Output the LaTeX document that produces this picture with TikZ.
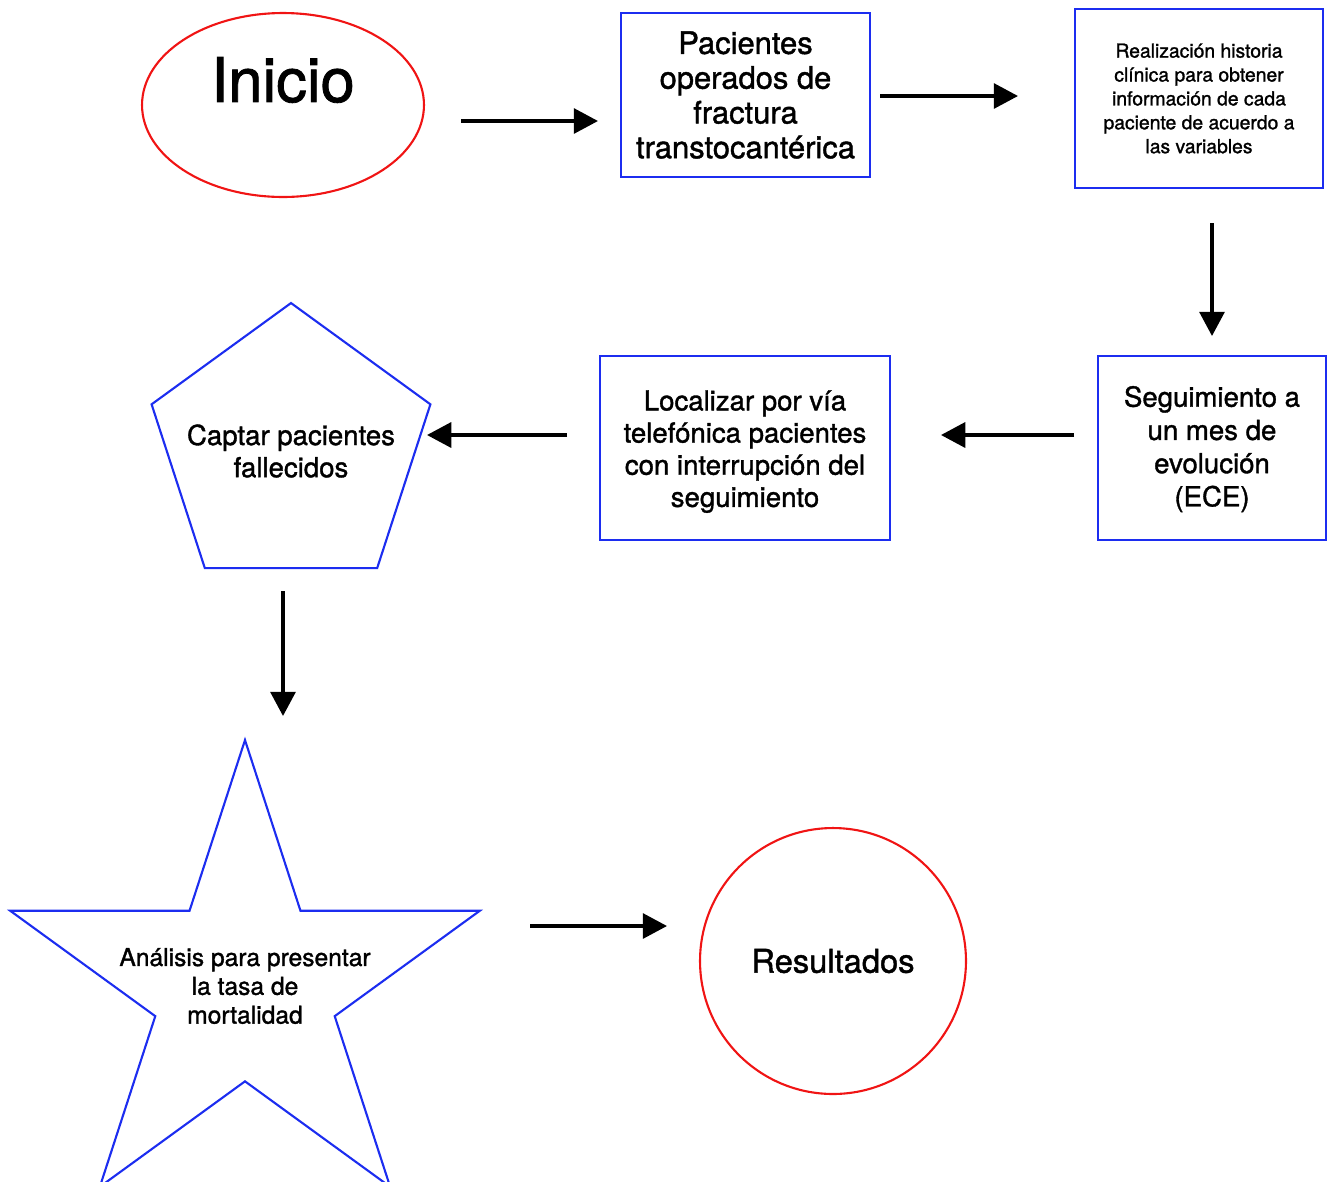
\documentclass[tikz,border=0pt]{standalone}
\usepackage{fontspec}
\setmainfont{TeX Gyre Heros}[FakeBold=1.3]
\usetikzlibrary{arrows.meta,shapes.geometric}
\definecolor{bblue}{RGB}{28,45,240}
\definecolor{rred}{RGB}{240,20,20}
\begin{document}
\begin{tikzpicture}[x=0.02cm,y=-0.02cm,
  box/.style={draw=bblue,line width=1.2pt,rectangle,inner sep=0pt,align=center},
  redshape/.style={draw=rred,line width=1.2pt,inner sep=0pt,align=center},
  blueshape/.style={draw=bblue,line width=1.2pt,inner sep=0pt,align=center},
  arr/.style={line width=2pt,-{Triangle[length=13.8pt,width=14.2pt]}},
  fA/.style={font=\fontsize{17.6pt}{19.8pt}\selectfont},
  fB/.style={font=\fontsize{11pt}{13.6pt}\selectfont},
  fC/.style={font=\fontsize{15.7pt}{18.3pt}\selectfont},
  fS/.style={font=\fontsize{15.7pt}{18.9pt}\selectfont},
  fD/.style={font=\fontsize{14pt}{16.4pt}\selectfont}]
\useasboundingbox (0,0) rectangle (1329,1181);

% Inicio
\node[redshape,ellipse,minimum width=5.64cm,minimum height=3.68cm] (ini) at (283,105) {};
\node[font=\fontsize{35pt}{40pt}\selectfont] (initxt) at (283,80) {Inicio};

% boxes
\node[box,fA,minimum width=4.98cm,minimum height=3.28cm] (pac) at (745.5,95)
  {Pacientes\\operados de\\fractura\\transtocantérica};
\node[box,fB,minimum width=4.96cm,minimum height=3.58cm] (real) at (1199,98.5)
  {Realización historia\\clínica para obtener\\información de cada\\paciente de acuerdo a\\las variables};
\node[box,fS,minimum width=4.56cm,minimum height=3.68cm] (seg) at (1212,448)
  {\rule{0pt}{13pt}Seguimiento a\\un mes de\\evolución\\(ECE)};
\node[box,fC,minimum width=5.8cm,minimum height=3.68cm] (loc) at (745,448)
  {\rule{0pt}{15.5pt}Localizar por vía\\telefónica pacientes\\con interrupción del\\seguimiento};

% pentagon
\node[blueshape,regular polygon,regular polygon sides=5,minimum size=5.864cm] (cap) at (291,449.6) {};
\node[fC,align=center] (captxt) at (291,451) {Captar pacientes\\fallecidos};

% star
\node[blueshape,star,star points=5,star point ratio=2.618,minimum size=9.88cm] (star) at (245,987) {};
\node[fD,align=center] (ana) at (245,986) {Análisis para presentar\\la tasa de\\mortalidad};

% Resultados
\node[redshape,circle,minimum size=5.32cm,font=\fontsize{18.6pt}{21pt}\selectfont] (res) at (833,961) {Resultados};

% arrow end points
\coordinate (a1s) at (461,121); \coordinate (a1e) at (598,121);
\coordinate (a2s) at (880,96);  \coordinate (a2e) at (1018,96);
\coordinate (a3s) at (1212,223); \coordinate (a3e) at (1212,336);
\coordinate (a4s) at (1074,435); \coordinate (a4e) at (941,435);
\coordinate (a5s) at (567,435); \coordinate (a5e) at (427,435);
\coordinate (a6s) at (283,591); \coordinate (a6e) at (283,716);
\coordinate (a7s) at (530,926); \coordinate (a7e) at (667,926);

\draw[arr] (a1s) -- (a1e);
\draw[arr] (a2s) -- (a2e);
\draw[arr] (a3s) -- (a3e);
\draw[arr] (a4s) -- (a4e);
\draw[arr] (a5s) -- (a5e);
\draw[arr] (a6s) -- (a6e);
\draw[arr] (a7s) -- (a7e);
\end{tikzpicture}
\end{document}
